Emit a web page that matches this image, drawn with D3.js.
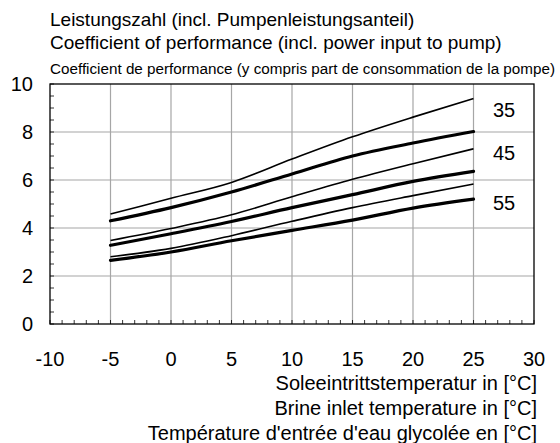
<!DOCTYPE html>
<html>
<head>
<meta charset="utf-8">
<script src="https://cdn.jsdelivr.net/npm/d3@7"></script>
<style>
  body { margin: 0; background: #fff; }
  text { font-family: "Liberation Sans", Arial, sans-serif; fill: #000; }
</style>
</head>
<body>
<div id="chart"></div>
<script>
// brine inlet temperature [°C]
const temps = [-5, 0, 5, 10, 15, 20, 25];

// COP for flow temperatures 35 / 45 / 55 (thin = upper curve, thick = lower curve)
const cop35Thin  = [4.58, 5.24, 5.90, 6.87, 7.80, 8.62, 9.39];
const cop35Thick = [4.30, 4.85, 5.50, 6.25, 7.00, 7.54, 8.02];
const cop45Thin  = [3.48, 3.98, 4.55, 5.30, 6.03, 6.68, 7.30];
const cop45Thick = [3.28, 3.76, 4.27, 4.85, 5.39, 5.94, 6.36];
const cop55Thin  = [2.80, 3.15, 3.68, 4.28, 4.85, 5.35, 5.83];
const cop55Thick = [2.65, 3.00, 3.47, 3.90, 4.33, 4.83, 5.20];

const flowLabels = ["35", "45", "55"];
const xTicks = [-10, -5, 0, 5, 10, 15, 20, 25, 30];
const yTicks = [0, 2, 4, 6, 8, 10];

const titleLines = [
  "Leistungszahl (incl. Pumpenleistungsanteil)",
  "Coefficient of performance (incl. power input to pump)",
  "Coefficient de performance (y compris part de consommation de la pompe)"
];
const xTitleLines = [
  "Soleeintrittstemperatur in [°C]",
  "Brine inlet temperature in [°C]",
  "Température d'entrée d'eau glycolée en [°C]"
];

const width = 560, height = 443;
const plotLeft = 50, plotRight = 534, plotTop = 84, plotBottom = 324;

const svg = d3.select("#chart").append("svg")
    .attr("width", width)
    .attr("height", height);

const x = d3.scaleLinear().domain([-10, 30]).range([plotLeft, plotRight]);
const y = d3.scaleLinear().domain([0, 10]).range([plotBottom, plotTop]);

//grid lines
svg.append("g")
    .selectAll("line")
    .data(xTicks.slice(1, -1))
    .join("line")
    .attr("x1", d => x(d)).attr("x2", d => x(d))
    .attr("y1", plotTop).attr("y2", plotBottom)
    .attr("stroke", "#a6a6a6").attr("stroke-width", 1.2);

svg.append("g")
    .selectAll("line")
    .data(yTicks.slice(1, -1))
    .join("line")
    .attr("x1", plotLeft).attr("x2", plotRight)
    .attr("y1", d => y(d)).attr("y2", d => y(d))
    .attr("stroke", "#a6a6a6").attr("stroke-width", 1.2);

//minor ticks inside the frame
svg.append("g")
    .selectAll("line")
    .data(d3.range(-10, 31, 1))
    .join("line")
    .attr("x1", d => x(d)).attr("x2", d => x(d))
    .attr("y1", plotBottom).attr("y2", plotBottom - 4)
    .attr("stroke", "#000").attr("stroke-width", 0.8);

svg.append("g")
    .selectAll("line")
    .data(d3.range(0, 10.01, 0.5))
    .join("line")
    .attr("x1", plotLeft).attr("x2", plotLeft + 4)
    .attr("y1", d => y(d)).attr("y2", d => y(d))
    .attr("stroke", "#000").attr("stroke-width", 0.8);

//frame
svg.append("rect")
    .attr("x", plotLeft).attr("y", plotTop)
    .attr("width", plotRight - plotLeft).attr("height", plotBottom - plotTop)
    .attr("fill", "none")
    .attr("stroke", "#000").attr("stroke-width", 1.3);

//tick labels
svg.append("g")
    .selectAll("text")
    .data(xTicks)
    .join("text")
    .attr("x", d => x(d))
    .attr("y", plotBottom + 42)
    .attr("text-anchor", "middle")
    .attr("font-size", 20)
    .text(d => d);

svg.append("g")
    .selectAll("text")
    .data(yTicks)
    .join("text")
    .attr("x", 33)
    .attr("y", d => y(d) + 7)
    .attr("text-anchor", "end")
    .attr("font-size", 20)
    .text(d => d);

//curves
const line = d3.line()
    .x((d, i) => x(temps[i]))
    .y(d => y(d))
    .curve(d3.curveMonotoneX);

const curves = [
  { values: cop35Thin, w: 1.6 },
  { values: cop35Thick, w: 3.2 },
  { values: cop45Thin, w: 1.6 },
  { values: cop45Thick, w: 3.2 },
  { values: cop55Thin, w: 1.6 },
  { values: cop55Thick, w: 3.2 }
];

svg.append("g")
    .selectAll("path")
    .data(curves)
    .join("path")
    .attr("d", d => line(d.values))
    .attr("fill", "none")
    .attr("stroke", "#000")
    .attr("stroke-width", d => d.w)
    .attr("stroke-linecap", d => d.w > 2 ? "round" : "butt");

//flow temperature labels
const labelAt = [8.92, 7.12, 5.04];
svg.append("g")
    .selectAll("text")
    .data(flowLabels)
    .join("text")
    .attr("x", 504)
    .attr("y", (d, i) => y(labelAt[i]) + 7)
    .attr("text-anchor", "middle")
    .attr("font-size", 20)
    .text(d => d);

//titles
svg.append("text")
    .attr("x", 50).attr("y", 25.5)
    .attr("font-size", 19)
    .text(titleLines[0]);

svg.append("text")
    .attr("x", 50).attr("y", 49)
    .attr("font-size", 19)
    .text(titleLines[1]);

svg.append("text")
    .attr("x", 50).attr("y", 74)
    .attr("font-size", 15.1)
    .attr("textLength", 505)
    .attr("lengthAdjust", "spacingAndGlyphs")
    .text(titleLines[2]);

svg.append("g")
    .selectAll("text")
    .data(xTitleLines)
    .join("text")
    .attr("x", 537)
    .attr("y", (d, i) => 390 + i * 25)
    .attr("text-anchor", "end")
    .attr("font-size", 20)
    .text(d => d);
</script>
</body>
</html>
